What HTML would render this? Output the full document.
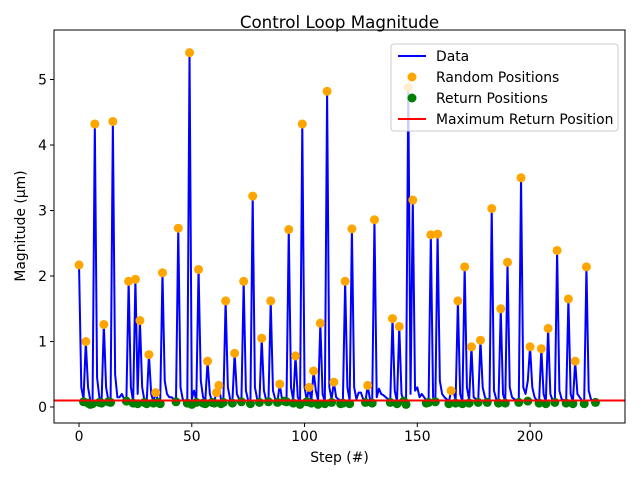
<!DOCTYPE html>
<html><head><meta charset="utf-8"><style>
body{margin:0;background:#fff;}
svg text{font-family:"DejaVu Sans","Liberation Sans",sans-serif;fill:#000;}
</style></head><body>
<svg id="chart" width="640" height="480" viewBox="0 0 640 480" xmlns="http://www.w3.org/2000/svg">
<rect width="640" height="480" fill="#fff"/>
<text x="339.5" y="28" font-size="16.7" text-anchor="middle">Control Loop Magnitude</text>
<g id="plot"></g>
<rect x="54" y="30" width="571" height="393" fill="none" stroke="#000" stroke-width="1"/>
<text x="339.5" y="462" font-size="13.9" text-anchor="middle">Step (#)</text>
<text transform="translate(25,226) rotate(-90)" font-size="13.9" text-anchor="middle">Magnitude (µm)</text>
<g>
<rect x="391" y="44" width="227" height="87" rx="3" fill="#fff" fill-opacity="0.8" stroke="#ccc"/>
<line x1="398" y1="56" x2="426" y2="56" stroke="#0000ff" stroke-width="2"/>
<text x="436" y="61" font-size="13.9">Data</text>
<circle cx="412" cy="77" r="4.5" fill="orange"/>
<text x="436" y="82" font-size="13.9">Random Positions</text>
<circle cx="412" cy="98" r="4.5" fill="green"/>
<text x="436" y="103" font-size="13.9">Return Positions</text>
<line x1="398" y1="119" x2="426" y2="119" stroke="#ff0000" stroke-width="2"/>
<text x="436" y="124" font-size="13.9">Maximum Return Position</text>
</g>
</svg>
<script>
const dataValues=[2.17,0.3,0.12,1.0,0.3,0.1,0.08,4.32,0.45,0.15,0.08,1.26,0.3,0.1,0.08,4.36,0.5,0.15,0.15,0.2,0.12,0.1,1.92,0.3,0.08,1.95,0.2,1.32,0.3,0.1,0.08,0.8,0.2,0.08,0.22,0.1,0.08,2.05,0.4,0.2,0.15,0.15,0.12,0.1,2.73,0.3,0.12,0.08,0.06,5.41,0.12,0.25,0.1,2.1,0.4,0.15,0.1,0.7,0.2,0.08,0.1,0.22,0.33,0.1,0.08,1.62,0.3,0.12,0.08,0.82,0.2,0.12,0.08,1.92,0.25,0.1,0.08,3.22,0.3,0.12,0.08,1.05,0.25,0.1,0.08,1.62,0.25,0.12,0.08,0.35,0.12,0.1,0.08,2.71,0.3,0.1,0.78,0.15,0.08,4.32,0.3,0.1,0.3,0.08,0.55,0.25,0.1,1.28,0.2,0.08,4.82,0.3,0.12,0.38,0.15,0.12,0.1,0.08,1.92,0.3,0.1,2.72,0.3,0.12,0.22,0.22,0.12,0.08,0.33,0.12,0.08,2.86,0.15,0.28,0.2,0.18,0.15,0.12,0.08,1.35,0.25,0.08,1.23,0.2,0.08,0.06,4.88,0.2,3.16,0.25,0.3,0.15,0.2,0.15,0.1,0.08,2.63,0.15,0.08,2.64,0.4,0.2,0.15,0.12,0.08,0.25,0.25,0.1,1.62,0.2,0.08,2.14,0.3,0.1,0.92,0.15,0.12,0.08,1.02,0.3,0.15,0.1,0.08,3.03,0.25,0.12,0.08,1.5,0.2,0.08,2.21,0.3,0.15,0.12,0.1,0.08,3.5,0.3,0.2,0.4,0.92,0.3,0.15,0.1,0.08,0.89,0.2,0.08,1.2,0.2,0.1,0.08,2.39,0.25,0.12,0.1,0.08,1.65,0.2,0.08,0.7,0.2,0.15,0.1,0.08,2.14,0.25,0.12,0.08,0.07];
const randomSteps=[0,3,7,11,15,22,25,27,31,34,37,44,49,53,57,61,62,65,69,73,77,81,85,89,93,96,99,102,104,107,110,113,118,121,128,131,139,142,146,148,156,159,165,168,171,174,178,183,187,190,196,200,205,208,212,217,220,225];
const randomValues=[2.17,1.0,4.32,1.26,4.36,1.92,1.95,1.32,0.8,0.22,2.05,2.73,5.41,2.1,0.7,0.22,0.33,1.62,0.82,1.92,3.22,1.05,1.62,0.35,2.71,0.78,4.32,0.3,0.55,1.28,4.82,0.38,1.92,2.72,0.33,2.86,1.35,1.23,4.88,3.16,2.63,2.64,0.25,1.62,2.14,0.92,1.02,3.03,1.5,2.21,3.5,0.92,0.89,1.2,2.39,1.65,0.7,2.14];
const returnSteps=[2,4,5,6,9,10,13,14,21,24,26,29,30,33,35,36,43,48,50,52,55,56,59,60,63,64,68,72,76,80,84,88,91,92,95,98,101,103,106,109,112,116,117,120,127,130,138,141,144,145,154,155,158,164,167,170,173,177,181,186,189,195,199,204,207,211,216,219,224,229];
const returnValues=[0.08,0.06,0.04,0.05,0.07,0.06,0.08,0.07,0.09,0.06,0.05,0.07,0.05,0.06,0.07,0.05,0.08,0.06,0.04,0.07,0.06,0.05,0.07,0.06,0.05,0.07,0.06,0.08,0.05,0.07,0.08,0.07,0.09,0.08,0.06,0.04,0.08,0.06,0.04,0.05,0.07,0.05,0.06,0.05,0.07,0.06,0.07,0.05,0.09,0.04,0.06,0.07,0.08,0.05,0.06,0.05,0.06,0.07,0.07,0.06,0.06,0.07,0.09,0.06,0.05,0.07,0.06,0.05,0.05,0.07];
const maxReturn=0.1;
const xTicks=[0,50,100,150,200];
const yTicks=[0,1,2,3,4,5];

const NS="http://www.w3.org/2000/svg";
const X0=54,X1=625,Y0=423,Y1=30,XMIN=-11.1,XMAX=242.1,YMIN=-0.244,YMAX=5.756;
function sx(v){return X0+(v-XMIN)/(XMAX-XMIN)*(X1-X0);}
function sy(v){return Y0-(v-YMIN)/(YMAX-YMIN)*(Y0-Y1);}
const plot=document.getElementById('plot');
function mk(t,a){const e=document.createElementNS(NS,t);for(const k in a)e.setAttribute(k,a[k]);plot.appendChild(e);return e;}

xTicks.forEach(t=>{
  const l=mk('line',{x1:sx(t),x2:sx(t),y1:Y0,y2:Y0+4,stroke:'#000'});
  
  
  const tx=mk('text',{x:sx(t),y:Y0+18,'font-size':'13.9','text-anchor':'middle'});
  tx.textContent=t;
  
  
});
yTicks.forEach(t=>{
  const l=mk('line',{x1:X0-4,x2:X0,y1:sy(t),y2:sy(t),stroke:'#000'});
  
  
  const tx=mk('text',{x:X0-7,y:sy(t)+5,'font-size':'13.9','text-anchor':'end'});
  tx.textContent=t;
  
  
});

const pts=dataValues.map((v,i)=>sx(i).toFixed(2)+','+sy(v).toFixed(2)).join(' ');
const line=mk('polyline',{points:pts,fill:'none',stroke:'#0000ff','stroke-width':2,'stroke-linejoin':'round'});



randomSteps.forEach((s,i)=>{
  const c=mk('circle',{cx:sx(s),cy:sy(randomValues[i]),r:4.5,fill:'orange'});
  
  
});
returnSteps.forEach((s,i)=>{
  const c=mk('circle',{cx:sx(s),cy:sy(returnValues[i]),r:4.5,fill:'green'});
  
  
});
const red=mk('line',{x1:X0,x2:X1,y1:sy(maxReturn),y2:sy(maxReturn),stroke:'#ff0000','stroke-width':2});


</script>
</body></html>
